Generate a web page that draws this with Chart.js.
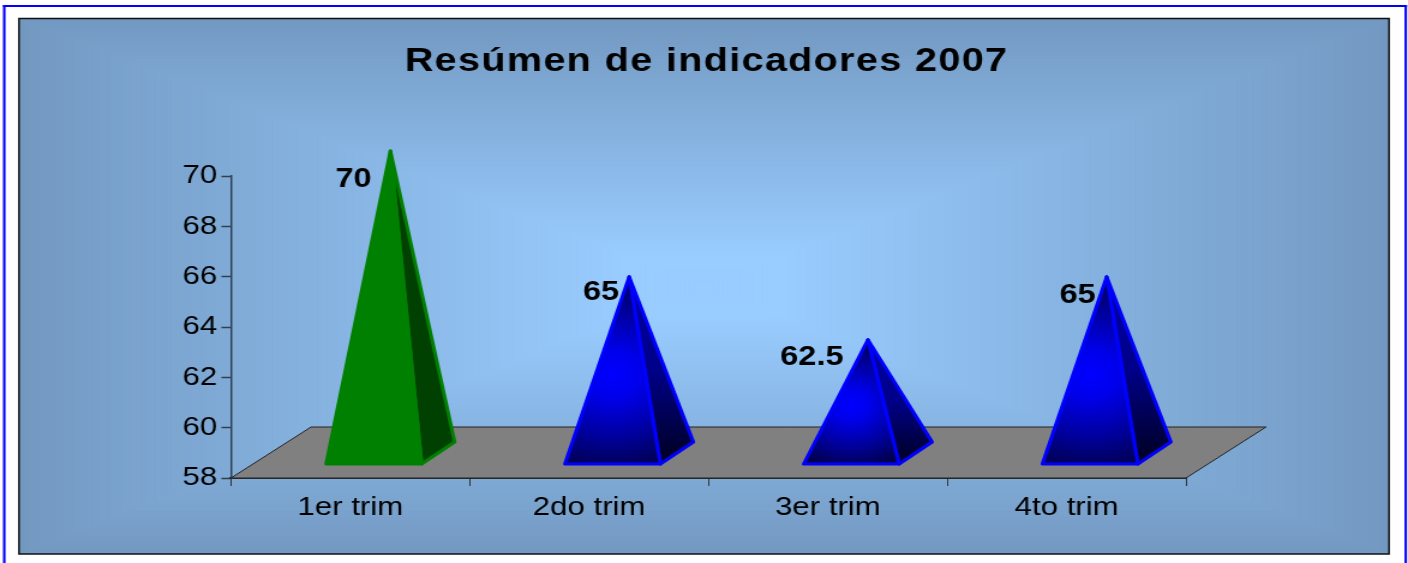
<!DOCTYPE html>
<html lang="es">
<head>
<meta charset="utf-8">
<title>Resúmen de indicadores 2007</title>
<style>
  html, body { margin: 0; padding: 0; background: #fff; overflow: hidden; }
  /* el original está estirado a lo ancho y algo borroso: misma deformación para texto y marcas */
  #wrap { width: 1173px; height: 563px; transform-origin: 0 0; transform: scaleX(1.20034); filter: blur(0.4px); }
  canvas { display: block; }
</style>
</head>
<body>
<div id="wrap"><canvas id="chart" width="1173" height="563"></canvas></div>
<script src="https://cdn.jsdelivr.net/npm/chart.js@4/dist/chart.umd.js"></script>
<script>
// Datos
const TITLE = 'Resúmen de indicadores 2007';
const categories = ['1er trim', '2do trim', '3er trim', '4to trim'];
const values = [70, 65, 62.5, 65];
const yTicks = [58, 60, 62, 64, 66, 68, 70];

// Estilo de cada pirámide
const borderColors = ['#008000', '#0000ff', '#0000ff', '#0000ff'];
const shaded = [false, true, true, true];

// Todo lo de abajo se mide en px de la imagen final; SX pasa a px del canvas
const SX = 1408 / 1173;
const FONT = '"Liberation Sans", Arial, sans-serif';
const DEPTH_X = 80, DEPTH_Y = 51;     // fondo del piso 3D
const BASE_UP = 14, BASE_DX = 23.5;   // base frontal de la pirámide sobre el piso
const BACK_X = 33, BACK_Y = 22;       // esquina trasera derecha
const APEX_DX = 16.5, APEX_UP = 25;   // vértice
const labelOffsets = [[-37, 29], [-28, 16], [-56, 18], [-29, 19]];

function px(x) { return x / SX; }

function drawPanel(chart) {
  const ctx = chart.ctx;
  const l = px(19), r = px(1389), t = 19, b = 554;
  const cx = (l + r) / 2, cy = (t + b) / 2, hw = (r - l) / 2, hh = (b - t) / 2;
  const from = [153, 204, 255], to = [115, 153, 193];
  const plateau = 0.12;
  ctx.save();
  ctx.fillStyle = '#fff';
  ctx.fillRect(0, 0, chart.width, chart.height);
  // marco azul exterior (abierto por abajo)
  ctx.fillStyle = '#0000ff';
  ctx.fillRect(px(3), 5, px(1404), 2);
  ctx.fillRect(px(3), 5, px(2.5), chart.height);
  ctx.fillRect(px(1404.5), 5, px(2.5), chart.height);
  // degradado rectangular del panel
  const steps = 140;
  for (let i = steps; i >= 0; i--) {
    const k = i / steps;
    const m = Math.max(0, (k - plateau) / (1 - plateau));
    const c = from.map((f, j) => Math.round(f + (to[j] - f) * m));
    ctx.fillStyle = `rgb(${c[0]},${c[1]},${c[2]})`;
    ctx.fillRect(cx - hw * k, cy - hh * k, hw * k * 2, hh * k * 2);
  }
  ctx.strokeStyle = '#111';
  ctx.lineWidth = 1.5;
  ctx.strokeRect(l, t - 0.5, r - l, b - t + 0.5);
  ctx.restore();
}

function drawFloor(chart) {
  const ctx = chart.ctx, a = chart.chartArea;
  const dx = px(DEPTH_X);
  ctx.save();
  ctx.beginPath();
  ctx.moveTo(a.left, a.bottom);
  ctx.lineTo(a.left + dx, a.bottom - DEPTH_Y);
  ctx.lineTo(a.right + dx, a.bottom - DEPTH_Y);
  ctx.lineTo(a.right, a.bottom);
  ctx.closePath();
  ctx.fillStyle = '#808080';
  ctx.fill();
  ctx.strokeStyle = '#222';
  ctx.lineWidth = 1;
  ctx.stroke();
  ctx.restore();
}

function drawPyramid(chart, el, i) {
  const ctx = chart.ctx, a = chart.chartArea;
  const baseY = a.bottom - BASE_UP;
  const cx = el.x + px(BASE_DX);
  const half = el.width / 2;
  const bl = [cx - half, baseY], br = [cx + half, baseY];
  const back = [br[0] + px(BACK_X), baseY - BACK_Y];
  const apex = [cx + px(APEX_DX), el.y - APEX_UP];
  const h = baseY - apex[1];

  let front = '#008000', side = '#004000';
  if (shaded[i]) {
    const my = apex[1] + h * 0.52;
    front = ctx.createRadialGradient(cx, my, 0, cx, my, h * 0.56);
    front.addColorStop(0, '#0000ff');
    front.addColorStop(0.22, '#0000ec');
    front.addColorStop(0.6, '#00009c');
    front.addColorStop(1, '#00003c');
    side = ctx.createLinearGradient(0, apex[1], 0, baseY);
    side.addColorStop(0, '#0000a8');
    side.addColorStop(0.5, '#000088');
    side.addColorStop(1, '#000020');
  }

  ctx.save();
  ctx.lineJoin = 'round';
  ctx.lineWidth = 3;
  ctx.strokeStyle = borderColors[i];
  ctx.beginPath();
  ctx.moveTo(apex[0], apex[1]);
  ctx.lineTo(br[0], br[1]);
  ctx.lineTo(back[0], back[1]);
  ctx.closePath();
  ctx.fillStyle = side;
  ctx.fill();
  ctx.stroke();
  ctx.beginPath();
  ctx.moveTo(apex[0], apex[1]);
  ctx.lineTo(bl[0], bl[1]);
  ctx.lineTo(br[0], br[1]);
  ctx.closePath();
  ctx.fillStyle = front;
  ctx.fill();
  ctx.stroke();

  // etiqueta de valor
  ctx.fillStyle = '#000';
  ctx.font = 'bold 27px ' + FONT;
  ctx.textAlign = 'center';
  ctx.textBaseline = 'middle';
  ctx.fillText(String(values[i]), apex[0] + px(labelOffsets[i][0]), apex[1] + labelOffsets[i][1]);
  ctx.restore();
}

const pyramidPlugin = {
  id: 'pyramids',
  beforeDraw: drawPanel,
  afterLayout(chart) {
    // centrar el título sobre el panel, no sobre el área de trazado
    const tb = chart.titleBlock;
    tb.left = 0;
    tb.right = px(706.5) * 2;
    if (!tb.spaced) {
      const draw = tb.draw.bind(tb);
      tb.draw = () => {
        chart.ctx.letterSpacing = '1.1px';
        draw();
        chart.ctx.letterSpacing = '0px';
      };
      tb.spaced = true;
    }
  },
  beforeDatasetsDraw: drawFloor,
  beforeDatasetDraw(chart, args) {
    args.meta.data.forEach((el, i) => drawPyramid(chart, el, i));
    return false;
  }
};

new Chart(document.getElementById('chart'), {
  type: 'bar',
  data: {
    labels: categories,
    datasets: [{
      data: values,
      base: yTicks[0],
      categoryPercentage: 1,
      barPercentage: 0.4
    }]
  },
  plugins: [pyramidPlugin],
  options: {
    responsive: false,
    animation: false,
    devicePixelRatio: 1,
    layout: { padding: { left: 0, right: px(1408 - 1186), top: 0, bottom: 0 } },
    plugins: {
      legend: { display: false },
      tooltip: { enabled: false },
      title: {
        display: true,
        text: TITLE,
        color: '#000',
        font: { family: FONT, size: 33, weight: 'bold', lineHeight: 1.2 },
        padding: { top: 42, bottom: 94.4 }
      }
    },
    scales: {
      x: {
        afterFit(s) { s.height = 85; },
        border: { color: '#2b2b2b', width: 2 },
        grid: { drawOnChartArea: false, tickLength: 8, tickColor: '#333', tickWidth: 1 },
        ticks: { color: '#000', padding: 6, font: { family: FONT, size: 26 }, maxRotation: 0 }
      },
      y: {
        min: yTicks[0],
        max: yTicks[yTicks.length - 1],
        afterFit(s) { s.width = px(231); },
        afterBuildTicks(s) { s.ticks = yTicks.map(v => ({ value: v })); },
        border: { color: '#333f4f', width: 1.5 },
        grid: { drawOnChartArea: false, tickLength: 8, tickColor: '#333f4f', tickWidth: 1.5 },
        ticks: { color: '#000', padding: 3.5, font: { family: FONT, size: 26 } }
      }
    }
  }
});
</script>
</body>
</html>
